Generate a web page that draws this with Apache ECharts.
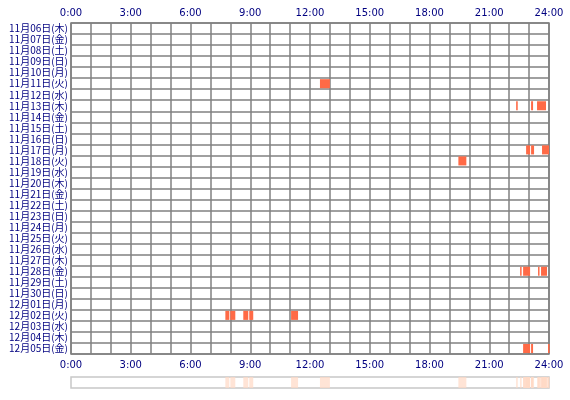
<!DOCTYPE html>
<html><head><meta charset="utf-8">
<script src="https://cdn.jsdelivr.net/npm/echarts@6/dist/echarts.min.js"></script>
<style>html,body{margin:0;padding:0;background:#fff}#c{width:570px;height:400px}</style>
</head><body><div id="c"></div>
<script>
const dates = ['11月06日(木)','11月07日(金)','11月08日(土)','11月09日(日)','11月10日(月)','11月11日(火)','11月12日(水)','11月13日(木)','11月14日(金)','11月15日(土)','11月16日(日)','11月17日(月)','11月18日(火)','11月19日(水)','11月20日(木)','11月21日(金)','11月22日(土)','11月23日(日)','11月24日(月)','11月25日(火)','11月26日(水)','11月27日(木)','11月28日(金)','11月29日(土)','11月30日(日)','12月01日(月)','12月02日(火)','12月03日(水)','12月04日(木)','12月05日(金)'];
const hourTicks = ['0:00','3:00','6:00','9:00','12:00','15:00','18:00','21:00','24:00'];
// [row index, start hour, end hour]
const intervals = [
  [5,12.5,13.0],
  [7,22.35,22.43],[7,23.1,23.2],[7,23.4,23.85],
  [11,22.85,23.05],[11,23.1,23.25],[11,23.65,24.0],
  [12,19.45,19.85],
  [22,22.55,22.6],[22,22.7,23.05],[22,23.45,23.5],[22,23.6,23.9],
  [26,7.75,7.95],[26,8.0,8.25],[26,8.65,8.9],[26,8.95,9.15],[26,11.05,11.4],
  [29,22.7,23.05],[29,23.1,23.2],[29,23.95,24.0]
];
const overview = intervals.map(d => [0, d[1], d[2]]);
const ch = echarts.init(document.getElementById('c'));
const fmt = v => (v % 3 === 0 ? v + ':00' : '');
function rect(params, api, color, opacity) {
  const c = api.value(0);
  const p1 = api.coord([api.value(1), c]);
  const p2 = api.coord([api.value(2), c]);
  const h = api.size([0, 1])[1];
  return {type:'rect', shape:{x:p1[0], y:p1[1]-h/2+1, width:Math.max(p2[0]-p1[0],1.5), height:h-2},
          style:{fill:color, opacity:opacity}};
}
ch.setOption({
  animation:false,
  grid:[{left:71,right:21,top:23,bottom:46,show:true,borderColor:'#808080',borderWidth:1.5},
        {left:71,right:21,top:377,height:11,show:true,borderColor:'#c8c8c8',borderWidth:1.5}],
  xAxis:[
    {gridIndex:0,type:'value',min:0,max:24,interval:1,position:'top',
     axisLine:{show:false},axisTick:{show:false},
     axisLabel:{formatter:fmt,color:'#000080',fontSize:10,fontFamily:'DejaVu Sans',margin:5,showMaxLabel:true,hideOverlap:false},
     splitLine:{lineStyle:{color:'#808080',width:1.5}}},
    {gridIndex:0,type:'value',min:0,max:24,interval:1,position:'bottom',
     axisLine:{show:false},axisTick:{show:false},
     axisLabel:{formatter:fmt,color:'#000080',fontSize:10,fontFamily:'DejaVu Sans',margin:6,hideOverlap:false},
     splitLine:{show:false}},
    {gridIndex:1,type:'value',min:0,max:24,show:false}
  ],
  yAxis:[
    {gridIndex:0,type:'category',data:dates,inverse:true,
     axisLine:{show:false},axisTick:{show:false},
     axisLabel:{color:'#000080',fontSize:10,fontFamily:'Noto Sans CJK JP',margin:3,interval:0},
     splitLine:{show:true,interval:0,lineStyle:{color:'#808080',width:1.5}}},
    {gridIndex:1,type:'category',data:['all'],show:false}
  ],
  series:[
    {type:'custom',xAxisIndex:0,yAxisIndex:0,data:intervals,
     renderItem:(p,api)=>rect(p,api,'#ff6a46',1)},
    {type:'custom',xAxisIndex:2,yAxisIndex:1,data:overview,
     renderItem:(p,api)=>{const c=api.value(0);const p1=api.coord([api.value(1),c]);const p2=api.coord([api.value(2),c]);const h=api.size([0,1])[1];
       return {type:'rect',shape:{x:p1[0],y:p1[1]-h/2,width:Math.max(p2[0]-p1[0],1.5),height:h},style:{fill:'#ffd8c4',opacity:0.7}};}}
  ]
});
</script></body></html>
